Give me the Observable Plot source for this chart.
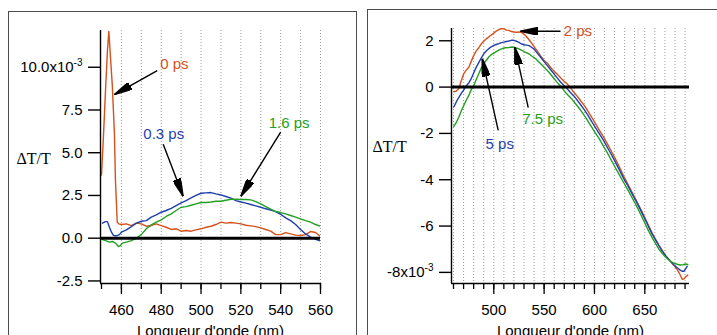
<!DOCTYPE html>
<html><head><meta charset="utf-8">
<script src="https://cdn.jsdelivr.net/npm/d3@7"></script>
<script src="https://cdn.jsdelivr.net/npm/@observablehq/plot@0.6"></script>
<style>
body{margin:0;width:717px;height:335px;overflow:hidden;background:#fff;position:relative;font-family:"Liberation Sans",Arial,sans-serif;}
.frame{position:absolute;border:1.6px solid #4d4d4d;box-sizing:border-box;}
.panel{position:absolute;left:0;top:0;}
</style></head><body>
<div class="frame" style="left:8px;top:10.5px;width:349px;height:345px"></div>
<div class="frame" style="left:367px;top:8.5px;width:370px;height:345px"></div>
<div id="left" class="panel"></div>
<div id="right" class="panel"></div>
<script>
// ---------- LEFT PANEL DATA ----------
const leftXTicks = [460, 480, 500, 520, 540, 560];
const leftXMinor = [450, 460, 470, 480, 490, 500, 510, 520, 530, 540, 550, 560];
const leftGrid = [460, 470, 480, 490, 500, 510, 520, 530, 540, 550, 560];
const leftYTicks = [-2.5, 0, 2.5, 5, 7.5, 10];

const wl0 = [450,451,452,453,453.7,454.5,455.4,456.5,457,457.9,458.7,460,462.5,465,467.5,470,472.5,475,477.5,480,482.5,485,487.5,490,492.5,495,497.5,500,502.5,505,507.5,510,512.5,515,517.5,520,522.5,525,527.5,530,532.5,535,537.5,540,542.5,545,547.5,550,552.5,555,557.5,560];
const v0ps = [3.7,6.0,8.6,11.0,12.1,10.6,9.0,6.1,3.4,0.95,0.84,0.80,0.84,0.74,0.88,0.84,0.70,0.74,0.84,0.74,0.64,0.51,0.55,0.41,0.45,0.41,0.49,0.55,0.64,0.70,0.80,0.94,0.88,0.92,0.88,0.84,0.76,0.72,0.68,0.60,0.51,0.41,0.21,0.21,0.33,0.25,0.18,0.16,0.21,0.39,0.33,0.10];

const wl03 = [450.5,452,453,454,455,456,457.5,459,460,462.5,465,467.5,470,472.5,475,477.5,480,482.5,485,487.5,490,492.5,495,497.5,500,502.5,505,507.5,510,512.5,515,517.5,520,522.5,525,527.5,530,532.5,535,537.5,540,542.5,545,547.5,550,552.5,555,557.5,560];
const v03ps = [0.88,0.97,0.97,0.64,0.35,0.16,0.14,0.21,0.35,0.49,0.68,0.88,0.99,1.03,1.23,1.36,1.52,1.62,1.75,1.91,2.07,2.20,2.36,2.51,2.63,2.65,2.67,2.59,2.53,2.44,2.34,2.20,2.12,2.05,1.97,1.89,1.81,1.72,1.65,1.55,1.40,1.19,1.03,0.80,0.51,0.25,0.06,-0.06,-0.16];

const wl16 = [450.5,452,454,455.5,457,458.5,459.5,460.5,462.5,465,467.5,470,472.5,475,477.5,480,482.5,485,487.5,490,492.5,495,497.5,500,502.5,505,507.5,510,512.5,515,517.5,520,522.5,525,527.5,530,532.5,535,537.5,540,542.5,545,547.5,550,552.5,555,557.5,560];
const v16ps = [-0.08,-0.14,-0.23,-0.19,-0.29,-0.49,-0.43,-0.29,-0.23,-0.14,0.0,0.21,0.55,0.78,0.94,1.07,1.27,1.42,1.62,1.81,1.85,1.93,2.01,2.09,2.09,2.12,2.16,2.16,2.22,2.28,2.28,2.26,2.26,2.24,2.14,2.01,1.85,1.70,1.56,1.50,1.42,1.33,1.23,1.13,1.03,0.94,0.80,0.70];

// annotations (data units) : label position and arrow tail -> tip
const leftLabels = ["0 ps", "0.3 ps", "1.6 ps"];
const leftLabelColors = ["#d4521c", "#1f3fae", "#22a022"];
const leftLabelX = [479.5, 471, 534];
const leftLabelY = [10.2, 6.1, 6.7];
const leftArrowX1 = [478, 481, 540], leftArrowY1 = [9.8, 5.5, 6.2];
const leftArrowX2 = [456.5, 491, 520], leftArrowY2 = [8.4, 2.45, 2.45];

// ---------- RIGHT PANEL DATA ----------
const rightXTicks = [500, 550, 600, 650];
const rightXMinor = [460,470,480,490,500,510,520,530,540,550,560,570,580,590,600,610,620,630,640,650,660,670,680,690];
const rightGrid = rightXMinor;
const rightYTicks = [-8, -6, -4, -2, 0, 2];

const wl2 = [460.3,462.5,465.2,467.5,470.2,472.5,475.2,477.5,480.1,482.5,485.1,487.5,490.1,492.5,495,497.5,500,502.5,505,507.5,510,512.5,515,517.5,520,522.5,526.5,529,531.5,534,536.5,540,543.1,546.5,550,553,556.3,559.6,563,566.3,569.5,572.9,576,579.5,583,586.1,590,593,596.1,600,604,609,613,616.9,620.5,624.2,629.1,633,637.5,642,647.4,650.7,654,657.3,661,664,667.3,671,675.5,679,682.2,684.5,687.1,689,691,692.7];
const v2ps = [-0.20,-0.18,-0.07,0.25,0.58,0.72,0.86,1.10,1.37,1.55,1.70,1.86,1.99,2.08,2.16,2.25,2.33,2.42,2.48,2.53,2.52,2.46,2.45,2.40,2.38,2.37,2.38,2.32,2.23,2.10,1.96,1.75,1.56,1.35,1.15,1.04,0.86,0.70,0.56,0.40,0.26,0.14,-0.02,-0.22,-0.40,-0.58,-0.80,-1.00,-1.22,-1.50,-1.80,-2.15,-2.46,-2.78,-3.08,-3.40,-3.85,-4.18,-4.55,-4.93,-5.40,-5.70,-6.00,-6.30,-6.60,-6.82,-7.05,-7.30,-7.52,-7.70,-7.88,-8.05,-8.30,-8.28,-8.18,-8.12];

const wl5 = [460.3,463,465.2,468,470.2,472.5,475.2,478,480.1,482.5,485.1,487.5,490.1,492.5,495,497.5,500,502.5,505,507.5,510,512.5,515,517.5,520,522.5,525,527.5,530,532.5,535,537.5,540,543,546.4,550,553,556.3,559.6,563,566.3,569.5,572.9,576,579.5,583,586.1,590,593,596.1,600,604,609,613,616.9,620.5,624.2,629.1,633,637.5,642,647.4,650.7,654,657.3,661,664,667.3,671,675.5,679,682.2,685,687.1,689,690.5,692.1];
const v5ps = [-0.86,-0.62,-0.45,-0.25,-0.12,0.05,0.18,0.40,0.62,0.85,1.06,1.25,1.44,1.56,1.66,1.74,1.80,1.84,1.88,1.92,1.94,1.97,1.99,2.02,2.02,1.98,1.93,1.86,1.83,1.81,1.79,1.72,1.64,1.48,1.30,1.10,0.94,0.76,0.58,0.40,0.22,0.08,-0.07,-0.22,-0.38,-0.57,-0.75,-0.98,-1.18,-1.40,-1.68,-1.96,-2.30,-2.62,-2.92,-3.22,-3.53,-3.95,-4.25,-4.62,-4.98,-5.45,-5.75,-6.05,-6.35,-6.62,-6.85,-7.08,-7.30,-7.52,-7.68,-7.80,-7.90,-7.95,-7.95,-7.85,-7.74];

const wl75 = [460.3,462.5,465.2,467.5,470.2,472.5,475.2,477.5,480.1,482.5,485.1,487.5,490.1,492.5,495,497.5,501.7,505,508.3,511.5,515,518,521.6,525,528.2,531.5,534.8,538,541.4,544.8,548.1,551.3,554.6,558,561.3,564.5,567.9,571,574.5,578,581.2,586,591.1,596,601,605,609,613,617,620.5,624.2,629,633,637.5,642,647.4,650.7,654,657.3,661,664,667.3,671,675.5,678.8,682,685,688,690.5,692.7];
const v75ps = [-1.70,-1.55,-1.30,-1.05,-0.79,-0.58,-0.36,-0.12,0.07,0.32,0.58,0.82,1.01,1.15,1.30,1.40,1.51,1.60,1.66,1.70,1.71,1.73,1.70,1.65,1.58,1.50,1.44,1.33,1.23,1.08,0.94,0.80,0.65,0.47,0.29,0.13,-0.03,-0.22,-0.38,-0.54,-0.72,-0.98,-1.30,-1.64,-1.99,-2.25,-2.56,-2.85,-3.18,-3.46,-3.75,-4.12,-4.43,-4.79,-5.15,-5.63,-5.93,-6.23,-6.50,-6.78,-7.00,-7.18,-7.36,-7.52,-7.60,-7.65,-7.68,-7.67,-7.64,-7.66];

const rightLabels = ["2 ps", "5 ps", "7.5 ps"];
const rightLabelColors = ["#d4521c", "#1f3fae", "#22a022"];
const rightLabelX = [569.5, 491.8, 528.2];
const rightLabelY = [2.42, -2.48, -1.40];
const rightArrowX1 = [566.3, 504.4, 534.2], rightArrowY1 = [2.41, -1.87, -0.89];
const rightArrowX2 = [526.5, 488.5, 520.9], rightArrowY2 = [2.41, 1.23, 1.73];

const xLabel = "Longueur d'onde (nm)";
const yLabel = "ΔT/T";

// ---------- helpers ----------
const zip = (xs, ys) => xs.map((x, i) => ({x, y: ys[i]}));
const arrowHead = (color, context) => {
  const m = d3.create("svg:marker")
    .attr("viewBox", "-18 -4 18 8").attr("markerWidth", 18).attr("markerHeight", 8)
    .attr("markerUnits", "userSpaceOnUse").attr("orient", "auto").attr("refX", 0).attr("refY", 0);
  m.append("path").attr("d", "M0,0L-18,-4L-18,4Z").attr("fill", "black");
  return m.node();
};
const style = {fontFamily: "'Liberation Sans', Arial, sans-serif", fontSize: "15px", background: "transparent", overflow: "visible", color: "black"};

function panel(o) {
  const annots = o.labels.map((t, i) => ({t, c: o.colors[i], x: o.lx[i], y: o.ly[i], x1: o.ax1[i], y1: o.ay1[i], x2: o.ax2[i], y2: o.ay2[i]}));
  const svg = Plot.plot({
    width: 717, height: 335,
    marginLeft: o.ml, marginRight: o.mr, marginTop: o.mt, marginBottom: o.mb,
    style,
    x: {domain: o.xd, axis: null},
    y: {domain: o.yd, axis: null},
    marks: [
      Plot.ruleX(o.grid, {stroke: "#9a9a9a", strokeWidth: 1, strokeDasharray: "1,2"}),
      ...o.series.map(s => Plot.line(zip(s.x, s.y), {x: "x", y: "y", stroke: s.color, strokeWidth: 1.4, clip: true})),
      Plot.ruleY([0], {stroke: "black", strokeWidth: 3}),
      Plot.ruleX([o.xd[0]], {stroke: "black", strokeWidth: 1.4}),
      Plot.ruleY([o.yd[0]], {stroke: "black", strokeWidth: 1.4}),
      Plot.axisY({ticks: o.yt, tickSize: 12, tickPadding: 6, tickFormat: o.yf, strokeWidth: 1.4, fontSize: 15}),
      Plot.axisX({ticks: o.xminor, tickSize: 6, tickFormat: () => "", strokeWidth: 1.3}),
      Plot.axisX({ticks: o.xt, tickSize: 11, tickPadding: 10, tickFormat: d => String(d), strokeWidth: 1.3, fontSize: 15}),
      Plot.text([xLabel], {x: [d3.mean(o.xd)], frameAnchor: "bottom", lineAnchor: "top", dy: 42, fontSize: 15}),
      Plot.text([yLabel], {y: [o.yly], frameAnchor: "left", textAnchor: "start", dx: o.ylx, fontSize: 16, fontFamily: "'Liberation Serif', 'Times New Roman', serif"}),
      Plot.link(annots, {x1: "x1", y1: "y1", x2: "x2", y2: "y2", stroke: "black", strokeWidth: 1.4, markerEnd: arrowHead}),
      ...annots.map(a => Plot.text([a], {x: "x", y: "y", text: "t", fill: a.c, textAnchor: "start", lineAnchor: "middle", fontSize: 15}))
    ]
  });
  // superscript exponent on the labelled tick
  d3.select(svg).selectAll("text").filter(function () { return this.textContent === o.expBase; })
    .append("tspan").attr("dy", "-6").attr("font-size", "10px").text("-3");
  return svg;
}

const left = panel({
  ml: 100, mr: 397, mt: 30, mb: 52,
  xd: [449.5, 560], yd: [-2.65, 12.15],
  grid: leftGrid, xt: leftXTicks, xminor: leftXMinor, yt: leftYTicks,
  yf: d => d === 10 ? "10.0x10" : d.toFixed(1), expBase: "10.0x10",
  yly: 4.66, ylx: -84,
  series: [
    {x: wl0, y: v0ps, color: leftLabelColors[0]},
    {x: wl03, y: v03ps, color: leftLabelColors[1]},
    {x: wl16, y: v16ps, color: leftLabelColors[2]}
  ],
  labels: leftLabels, colors: leftLabelColors, lx: leftLabelX, ly: leftLabelY,
  ax1: leftArrowX1, ay1: leftArrowY1, ax2: leftArrowX2, ay2: leftArrowY2
});
document.getElementById("left").append(left);

const right = panel({
  ml: 451, mr: 28, mt: 28, mb: 52,
  xd: [458, 694.4], yd: [-8.48, 2.53],
  grid: rightGrid, xt: rightXTicks, xminor: rightXMinor, yt: rightYTicks,
  yf: d => d === -8 ? "-8x10" : String(d), expBase: "-8x10",
  yly: -2.6, ylx: -79,
  series: [
    {x: wl2, y: v2ps, color: rightLabelColors[0]},
    {x: wl5, y: v5ps, color: rightLabelColors[1]},
    {x: wl75, y: v75ps, color: rightLabelColors[2]}
  ],
  labels: rightLabels, colors: rightLabelColors, lx: rightLabelX, ly: rightLabelY,
  ax1: rightArrowX1, ay1: rightArrowY1, ax2: rightArrowX2, ay2: rightArrowY2
});
document.getElementById("right").append(right);
</script>
</body></html>
